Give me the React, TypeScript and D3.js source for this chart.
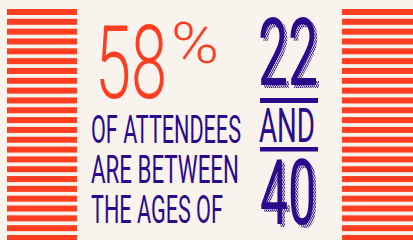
import React, { useEffect, useRef } from 'react';
import * as d3 from 'd3';

const bigStat = '58';
const statUnit = '%';
const captionLines = ['OF ATTENDEES', 'ARE BETWEEN', 'THE AGES OF'];
const ageRange = ['22', 'AND', '40'];
const stripeCount = 24;

const RED = '#ff3d21';
const PURPLE = '#2b0a8c';
const BG = '#f8f3ec';
const CAP = 0.711; // Roboto cap height / em

const App = () => {
  const svgRef = useRef<SVGSVGElement | null>(null);

  useEffect(() => {
    const width = 413;
    const height = 240;
    const svg = d3.select(svgRef.current);
    svg.selectAll('*').remove();

    // squeeze a text into a box: left x, baseline, cap height, width
    const fitText = (g, txt, x, base, capH, w, weight, fill) => {
      const t = g.append('text')
        .attr('font-family', 'Roboto')
        .attr('font-weight', weight)
        .attr('font-size', capH / CAP)
        .attr('fill', fill)
        .text(txt);
      const w0 = (t.node() as SVGTextElement).getBBox().width || w;
      t.attr('transform', `translate(${x},${base}) scale(${w / w0},1)`);
      return t;
    };

    // hatch pattern for the shadowed numbers
    const defs = svg.append('defs');
    const pat = defs.append('pattern')
      .attr('id', 'hatch')
      .attr('patternUnits', 'userSpaceOnUse')
      .attr('width', 2.6)
      .attr('height', 2.6)
      .attr('patternTransform', 'rotate(-45)');
    pat.append('rect').attr('width', 1.3).attr('height', 2.6).attr('fill', PURPLE);

    svg.append('rect').attr('width', width).attr('height', height).attr('fill', BG);

    // side stripes
    const y = d3.scaleBand<number>()
      .domain(d3.range(stripeCount))
      .range([9, 241])
      .paddingInner(0.389)
      .paddingOuter(0);

    [[7, 70], [342, 71]].forEach(([x0, w]) => {
      svg.append('g')
        .selectAll('rect')
        .data(y.domain())
        .join('rect')
        .attr('x', x0)
        .attr('y', d => y(d) as number)
        .attr('width', w)
        .attr('height', y.bandwidth())
        .attr('fill', RED);
    });

    // big red stat
    fitText(svg, bigStat, 95, 98, 73, 72, 300, RED);
    fitText(svg, statUnit, 171, 63, 41, 48, 300, RED);

    // caption
    const capWidths = [150, 148, 132];
    captionLines.forEach((line, i) => {
      fitText(svg, line, 91, 143 + i * 40, 27, capWidths[i], 400, PURPLE);
    });

    // age range on the right
    const numbers = [
      { t: ageRange[0], x: 258, y: 85, h: 67, w: 60 },
      { t: ageRange[2], x: 260, y: 224, h: 64, w: 56 },
    ];
    numbers.forEach(n => {
      fitText(svg, n.t, n.x + 3, n.y + 3, n.h, n.w, 400, 'url(#hatch)');
      fitText(svg, n.t, n.x, n.y, n.h, n.w, 400, PURPLE);
    });

    svg.append('rect').attr('x', 260).attr('y', 98).attr('width', 58).attr('height', 5).attr('fill', PURPLE);
    svg.append('rect').attr('x', 260).attr('y', 147).attr('width', 58).attr('height', 4.5).attr('fill', PURPLE);

    fitText(svg, ageRange[1], 259, 142, 34, 56, 400, PURPLE);
  }, []);

  return (
    <div style={{ position: 'absolute', left: 0, top: 0 }}>
      <svg ref={svgRef} width={413} height={240} style={{ display: 'block' }}></svg>
    </div>
  );
};

export default App;
